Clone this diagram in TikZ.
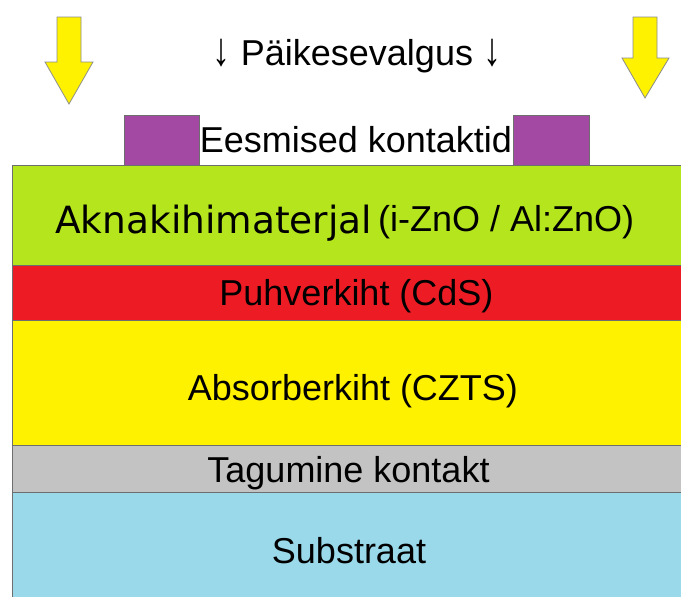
\documentclass[tikz,border=0pt]{standalone}
\usepackage{graphicx}
\usepackage{fontspec}
\setmainfont{Liberation Sans}
\newfontfamily\dvfont{DejaVu Sans}
\definecolor{lgreen}{HTML}{B5E61D}
\definecolor{lred}{HTML}{ED1C24}
\definecolor{lyellow}{HTML}{FFF200}
\definecolor{lgray}{HTML}{C3C3C3}
\definecolor{lblue}{HTML}{99D9EA}
\definecolor{lpurple}{HTML}{A349A4}
\definecolor{edge}{HTML}{6E6E6E}
\newcommand{\tallarrow}{\scalebox{1}[1.3]{↓}}
\begin{document}
\begin{tikzpicture}[x=1pt,y=-1pt,
  layer/.style={draw=edge,line width=1pt},
  lbl/.style={anchor=base,inner sep=0pt,font=\fontsize{36}{40}\selectfont},
  sunarrow/.style={fill=lyellow,draw=edge!80,line width=0.8pt,line join=miter}]
\useasboundingbox (0,0) rectangle (681,597);
\clip (0,0) rectangle (681,597);
% layers
\draw[layer,fill=lblue]   (12,492) rectangle (700,610);
\draw[layer,fill=lgray]   (12,445) rectangle (700,492);
\draw[layer,fill=lyellow] (12,320) rectangle (700,445);
\draw[layer,fill=lred]    (12,265) rectangle (700,320);
\draw[layer,fill=lgreen]  (12,165) rectangle (700,265);
% front contacts
\draw[layer,fill=lpurple] (124,115) rectangle (199,165);
\draw[layer,fill=lpurple] (513,115) rectangle (589,165);
% sun arrows
\draw[sunarrow] (57,17) -- (81,17) -- (81,62) -- (93,62) -- (69,104) -- (45,62) -- (57,62) -- cycle;
\draw[sunarrow] (633,17) -- (657,17) -- (657,58) -- (669,58) -- (645,98) -- (622,58) -- (633,58) -- cycle;
% labels
\node[lbl] (sun) at (357,65) {\tallarrow{} Päikesevalgus \tallarrow};
\node[lbl] (front) at (356,152) {Eesmised kontaktid};
\node[lbl,anchor=base west,font=\dvfont\fontsize{37.5}{40}\selectfont] (win) at (55,233) {Aknakihimaterjal};
\node[lbl,anchor=base west] (winm) at (378,231) {(i-ZnO / Al:ZnO)};
\node[lbl] (buf) at (356.5,305) {Puhverkiht (CdS)};
\node[lbl] (abs) at (353,400) {Absorberkiht (CZTS)};
\node[lbl] (back) at (348.5,482) {Tagumine kontakt};
\node[lbl] (sub) at (349,563) {Substraat};
\end{tikzpicture}
\end{document}
